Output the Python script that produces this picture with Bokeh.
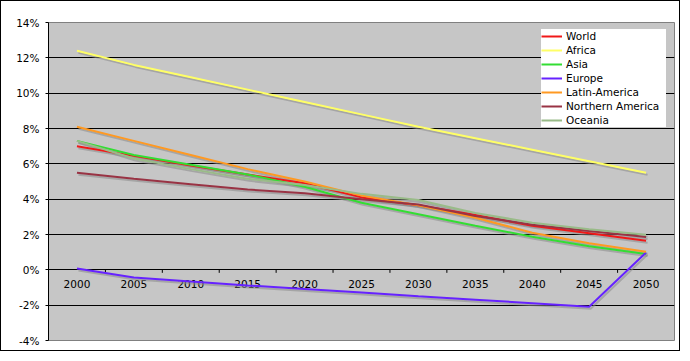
import numpy as np
from bokeh.plotting import figure
from bokeh.models import (Range1d, Legend, LegendItem, PrintfTickFormatter,
                          SingleIntervalTicker)
from bokeh.embed import file_html
from bokeh.resources import INLINE
from bokeh.core.properties import value

years = [2000, 2005, 2010, 2015, 2020, 2025, 2030, 2035, 2040, 2045, 2050]
year_labels = [str(y) for y in years]

world = [7.0, 6.45, 5.9, 5.4, 4.9, 4.1, 3.65, 3.1, 2.5, 2.07, 1.65]
africa = [12.4, 11.6, 10.9, 10.2, 9.5, 8.8, 8.1, 7.45, 6.8, 6.15, 5.5]
asia = [7.3, 6.5, 5.95, 5.4, 4.7, 3.8, 3.15, 2.5, 1.87, 1.33, 0.89]
europe = [0.07, -0.43, -0.66, -0.88, -1.08, -1.28, -1.49, -1.69, -1.89, -2.09, 0.98]
latin_america = [8.1, 7.3, 6.5, 5.7, 5.0, 4.2, 3.65, 2.95, 2.1, 1.5, 1.02]
northern_america = [5.5, 5.15, 4.85, 4.55, 4.33, 4.0, 3.7, 3.05, 2.55, 2.2, 1.86]
oceania = [7.3, 6.3, 5.7, 5.15, 4.8, 4.3, 3.95, 3.22, 2.67, 2.3, 1.98]

series_names = ["World", "Africa", "Asia", "Europe", "Latin-America",
                "Northern America", "Oceania"]
series_values = [world, africa, asia, europe, latin_america, northern_america, oceania]
series_colors = ["#F01818", "#FFFF66", "#33DD33", "#6622FF", "#FF9922",
                 "#993344", "#99BB88"]

FONT = "DejaVu Sans"
FS = "10.5px"

p = figure(width=680, height=351, output_backend="svg", toolbar_location=None,
           x_range=Range1d(1997.5, 2052.5), y_range=Range1d(-4, 14),
           x_axis_location=None, min_border_left=47, min_border_right=7,
           min_border_top=21, min_border_bottom=12)
p.styles = {"border": "1px solid black"}
p.background_fill_color = "#C6C6C6"
p.border_fill_color = "white"
p.outline_line_color = "#808080"
p.outline_line_width = 1

# shadow ranges (shift lines ~1.5px right and 2px down)
xpx = (2052.5 - 1997.5) / 626.0
ypx = 18.0 / 318.0
p.extra_x_ranges = {"sh": Range1d(1997.5 - 1.5 * xpx, 2052.5 - 1.5 * xpx)}
p.extra_y_ranges = {"sh": Range1d(-4 + 2 * ypx, 14 + 2 * ypx)}

p.xgrid.visible = False
p.ygrid.grid_line_color = "black"
p.ygrid.grid_line_width = 1
p.ygrid.ticker = SingleIntervalTicker(interval=2)

ax = p.yaxis[0]
ax.ticker = SingleIntervalTicker(interval=2)
ax.formatter = PrintfTickFormatter(format="%d%%")
ax.axis_line_color = "black"
ax.major_tick_line_color = "black"
ax.major_tick_out = 3
ax.major_tick_in = 0
ax.minor_tick_line_color = None
ax.major_label_standoff = 5
ax.major_label_text_font = FONT
ax.major_label_text_font_size = FS
ax.major_label_text_color = "black"

# x "axis" at 0: ticks between categories and labels
bounds = [y + 2.5 for y in years[:-1]]
p.ray(x=bounds, y=[0] * len(bounds), length=3, angle=-np.pi / 2,
      length_units="screen", line_color="black", line_width=1)
p.text(x=years, y=[0] * len(years), text=year_labels, text_align="center",
       text_baseline="top", y_offset=10, text_font=value(FONT),
       text_font_size=FS, text_color="black")

# shadows
for vals in series_values:
    p.line(years, vals, line_color="#8A8A8A", line_width=2, line_alpha=0.55,
           x_range_name="sh", y_range_name="sh")

items = []
for name, vals, col in zip(series_names, series_values, series_colors):
    r = p.line(years, vals, line_color=col, line_width=2)
    items.append(LegendItem(label=name, renderers=[r]))

legend = Legend(items=items, location=(493, 213), orientation="vertical",
                background_fill_color="white", background_fill_alpha=1,
                border_line_color=None, label_text_font=FONT,
                label_text_font_size=FS, label_text_color="black",
                glyph_width=21, glyph_height=14, label_height=14, label_width=100,
                label_standoff=4, spacing=0, padding=2, margin=0)
p.add_layout(legend, "center")

open("out.html", "w").write(file_html(p, INLINE))
